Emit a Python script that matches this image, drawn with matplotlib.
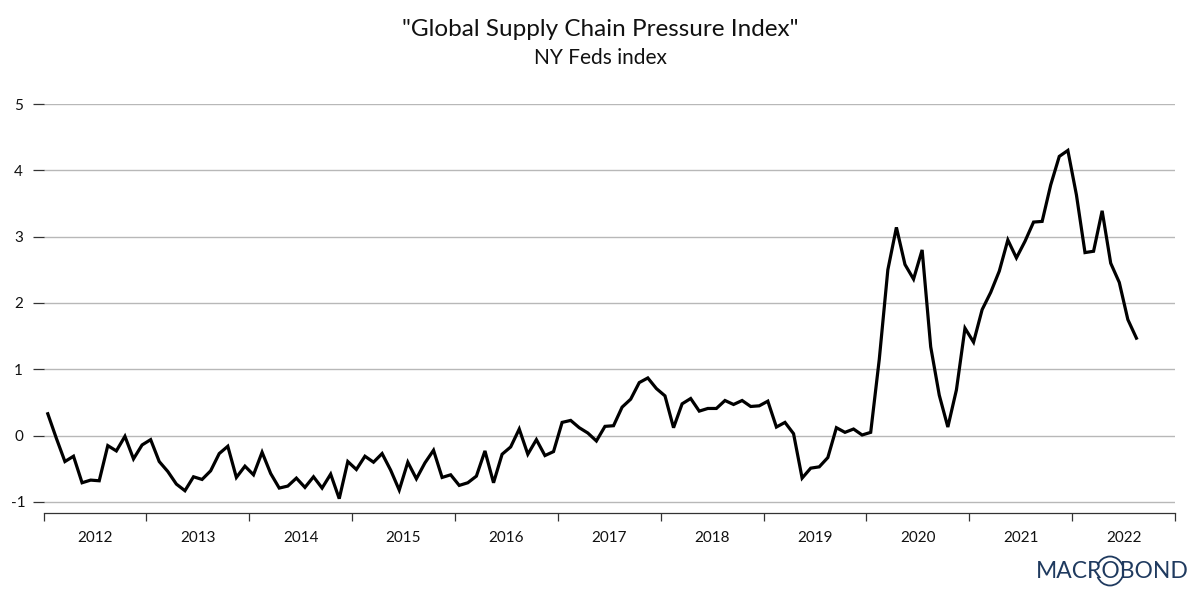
"""NY Fed Global Supply Chain Pressure Index, monthly 2012-2022."""

import numpy as np
import matplotlib
matplotlib.use('Agg')
import matplotlib.pyplot as plt
from matplotlib.patches import Arc

plt.rcParams['font.family'] = ['Lato', 'DejaVu Sans']

# monthly values from Jan 2012 to Aug 2022
GSCPI = [
    0.33, -0.04, -0.39, -0.31, -0.71, -0.67, -0.68, -0.15, -0.23, -0.01, -0.35, -0.14,
    -0.06, -0.39, -0.54, -0.73, -0.83, -0.62, -0.66, -0.53, -0.27, -0.16, -0.63, -0.46,
    -0.59, -0.25, -0.57, -0.79, -0.76, -0.64, -0.78, -0.62, -0.79, -0.58, -0.95, -0.39,
    -0.51, -0.31, -0.40, -0.27, -0.52, -0.82, -0.40, -0.65, -0.41, -0.22, -0.63, -0.59,
    -0.75, -0.71, -0.61, -0.23, -0.71, -0.28, -0.17, 0.10, -0.28, -0.06, -0.30, -0.24,
    0.20, 0.23, 0.12, 0.04, -0.08, 0.14, 0.15, 0.43, 0.55, 0.80, 0.87, 0.71,
    0.60, 0.12, 0.48, 0.56, 0.37, 0.41, 0.41, 0.53, 0.47, 0.53, 0.44, 0.45,
    0.52, 0.13, 0.20, 0.03, -0.64, -0.49, -0.47, -0.33, 0.12, 0.05, 0.10, 0.01,
    0.05, 1.15, 2.50, 3.14, 2.58, 2.36, 2.80, 1.34, 0.61, 0.13, 0.69, 1.62,
    1.41, 1.90, 2.16, 2.48, 2.95, 2.68, 2.93, 3.22, 3.23, 3.78, 4.21, 4.30,
    3.63, 2.76, 2.78, 3.39, 2.60, 2.31, 1.75, 1.47,
]
YEARS = list(range(2012, 2023))
Y_TICKS = [-1, 0, 1, 2, 3, 4, 5]
Y_LABELS = ['-1', '0', '1', '2', '3', '4', '5']

TITLE = '"Global Supply Chain Pressure Index"'
SUBTITLE = 'NY Feds index'

W, H = 1200, 600
fig = plt.figure(figsize=(12, 6), dpi=100, facecolor='white')

# axes placed by pixel: x axis at y=513, 5 gridline at y=104
ax = fig.add_axes([43.5 / W, 1 - 513 / H, (1175 - 43.5) / W, (513 - 104) / H])

x = 2012 + (np.arange(len(GSCPI)) + 0.5) / 12
ax.plot(x, GSCPI, color='black', linewidth=2.3, solid_joinstyle='miter', zorder=3)

ax.set_xlim(2012, 2023)
ax.set_ylim(-1 - 11 / 66.3, 5)

ax.set_yticks(Y_TICKS, Y_LABELS)
ax.tick_params(axis='y', length=8, width=0.9, color='#333333', pad=10,
               labelsize=11, labelcolor='#111111')
for lab in ax.get_yticklabels():
    lab.set_horizontalalignment('center')
ax.grid(True, axis='y', color='#b8b8b8', linewidth=1.0)
ax.set_axisbelow(True)

ax.set_xticks(YEARS + [2023])
ax.set_xticklabels([])
ax.set_xticks([y + 0.5 for y in YEARS], [str(y) for y in YEARS], minor=True)
ax.tick_params(axis='x', which='major', length=6, width=0.9, color='#333333')
ax.tick_params(axis='x', which='minor', length=0, pad=13, labelsize=11, labelcolor='#111111')

for side in ['top', 'right', 'left']:
    ax.spines[side].set_visible(False)
ax.spines['bottom'].set_color('#333333')
ax.spines['bottom'].set_linewidth(0.9)

fig.text(0.5, 1 - 29 / H, TITLE, ha='center', va='center', fontsize=17.5, color='#111111')
fig.text(0.5, 1 - 58 / H, SUBTITLE, ha='center', va='center', fontsize=15, color='#111111')

# Macrobond wordmark
NAVY = '#1f3a5f'
fig.text(1112 / W, 1 - 571 / H, 'MACROBOND', ha='center', va='center', fontsize=16.5,
         color=NAVY)
logo = fig.add_axes([0, 0, 1, 1], facecolor='none')
logo.set_xlim(0, W)
logo.set_ylim(H, 0)
logo.axis('off')
logo.add_patch(Arc((1110, 571), 27, 29, theta1=205, theta2=335, color=NAVY, linewidth=1.3))
logo.add_patch(Arc((1110, 571), 27, 29, theta1=25, theta2=155, color=NAVY, linewidth=1.3))

fig.savefig('out.png', dpi=100, facecolor='white')
plt.close(fig)
